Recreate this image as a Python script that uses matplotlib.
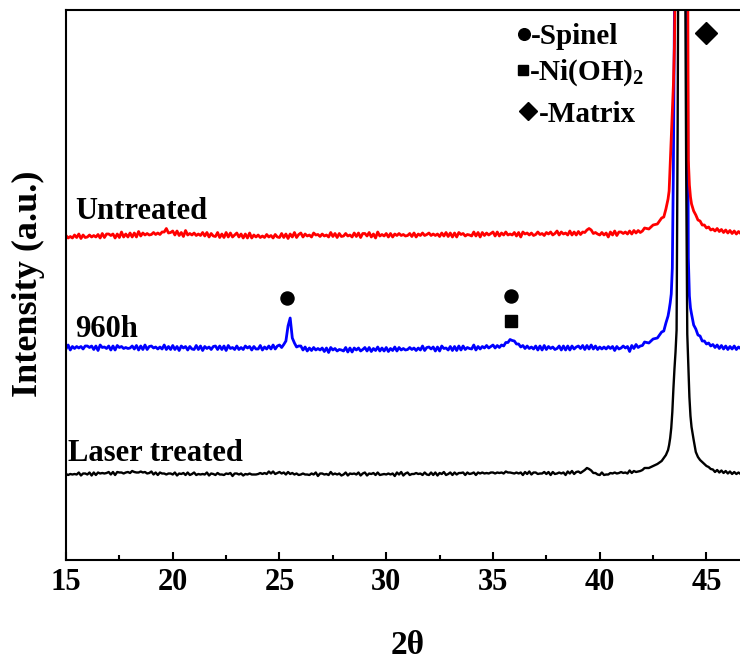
import numpy as np
import matplotlib
matplotlib.use("Agg")
import matplotlib.pyplot as plt

plt.rcParams['font.family'] = ['Liberation Serif', 'DejaVu Serif']
plt.rcParams['font.weight'] = 'bold'
plt.rcParams['mathtext.fontset'] = 'custom'
plt.rcParams['mathtext.rm'] = 'Liberation Serif:bold'
plt.rcParams['mathtext.bf'] = 'Liberation Serif:bold'
plt.rcParams['mathtext.it'] = 'Liberation Serif:bold:italic'

# ---- scan grids (degrees 2-theta) ----
two_theta_bg = np.round(np.arange(15.0, 42.05, 0.1), 2)        # background scan
peak_two_theta = [42.1, 42.3, 42.5, 42.7, 42.9, 43.0, 43.1, 43.2, 43.25, 43.3,
                  43.35, 43.4, 43.45, 43.5, 43.55, 43.6, 43.65, 43.7, 43.75, 43.8,
                  43.85, 43.9, 43.95, 44.0, 44.05, 44.1, 44.15, 44.2, 44.25, 44.3,
                  44.4, 44.5, 44.6, 44.7, 44.8, 44.9, 45.0, 45.1, 45.2]
two_theta_tail = np.round(np.arange(45.3, 46.65, 0.1), 2)

# ---- intensities (a.u.), relative to each pattern's own background ----
untreated_bg = [
    -0.5, -3, -1.5, -3, 0, -2.5, 1, -3.5, 0, -2.5,
    -2, 0, -2, -0.5, -2, 0.5, -3, 1.5, -2.5, 1,
    1, -0.5, 1, -3, 1, -2.5, 3, -2, 1, -2,
    2, -2, 2, -2, 3.5, -1, 2, 0, 1.5, 0,
    0.5, 2.5, 0.5, 2, 0.5, 3, 3, 6.5, 2, 2.5,
    4, 0, 4, -0.5, 2.5, -1.5, 4.5, 0, 1.5, 0,
    2, -0.5, 1, -0.5, 2.5, -1, 2.5, -2, 1.5, -1,
    -1.5, 2.5, -2.5, 1, -2.5, 2.5, -2, 2, -2, 0,
    2, -2, 1, -3, 1, -3, 2, -3, 0, -2,
    0, -2.5, -1, -2.5, 0.5, -2, -0.5, -3, 0.5, -2,
    -2.5, 1.5, -2.5, 1, -3.5, 1, -2, 2.5, -2.5, 0.5,
    2, -2, 1, -1, 0, -2, 2, 0, 0.5, -1.5,
    1, -1, 0, -2, 2.5, -1.5, 1.5, -2.5, 1.5, -1.5,
    -1, 1.5, -1, 0, -2, 2, -1.5, 2, -2.5, 1.5,
    1.5, -1, 2.5, -2, 1, -3, 3, -1, 0.5, -1,
    1.5, -2, 1.5, -2, 1, -0.5, 1.5, -0.5, 0.5, -1,
    -0.5, 1.5, -1.5, 2, -2, 1, -0.5, 2, -0.5, 0.5,
    2, -0.5, 1, -0.5, 1, -1.5, 2, -1, 2.5, -1.5,
    2, -2, 2, -2, 2.5, 0.5, 1.5, -1, 0.5, 0,
    -1, 3, -1, 2.5, -2, 2.5, -0.5, 2, 0, 1.5,
    3, -1, 3, -1, 2, 0, 3, 0, 1, 0,
    2.5, -1, 2.5, -2, 3, 1, 2, 0, 2, -0.5,
    0.5, 3, 0.5, 1.5, -0.5, 2.5, 1, 3, 0, 1.5,
    4, 0, 3, 1, 2, 0, 4, 0, 3, 0,
    3.5, 0.5, 3, 2.5, 5, 6.5, 5, 1.5, 2.5, 1,
    0, 2.5, 0, 2, -2, 3, 0, 4, -0.5, 3,
    3, 1.5, 3, 1, 4, 1, 4.5, 2, 4.5, 2.5,
    4]
untreated_peak = [7, 6, 10, 11, 17, 18, 26, 36, 44, 70,
                  95, 120, 150, 190, 280, 550, 1000, 1300, 1500, 1600,
                  1600, 1500, 1300, 1000, 800, 400, 75, 50, 38, 31,
                  24, 20, 15, 14, 10, 10, 7, 8, 5]
untreated_tail = [6, 4, 6.5, 3.5, 5.5, 2.5, 5, 2, 4.5, 1.5, 4, 1, 3.5, 1.5]

h960_bg = [
    -1, 3, -2, 1.5, -0.5, 1.5, 0, 1.5, -1, 2,
    2, 0.5, 2, -1.5, 2, -2.5, 3, 0.5, 1, -0.5,
    2, -2, 2, -2, 2.5, 0.5, 1.5, -0.5, 0.5, -0.5,
    0, 2, -1, 2.5, -2, 2, -1.5, 3, -1.5, 1.5,
    2, 0, 1, -1, 1, -1, 3, -1.5, 1.5, -1.5,
    2.5, -1.5, 1.5, -2.5, 2, 0, 1.5, -2, 1.5, -1,
    -1.5, 2.5, -1.5, 2, -2.5, 1.5, -0.5, 1, -1.5, 1.5,
    2, -1.5, 2, -1.5, 2, -2.5, 2.5, -0.5, 0.5, -1.5,
    2, -1.5, 0.5, -1.5, 2, 0, 1.5, -2, 1.5, -1,
    -1, 2.5, -2, 1, -1, 2, -1, 3, -1, 2,
    3, 0.5, 3.5, 7, 22, 30, 10, 5, 1, 2,
    2, -2, 1, -3, 0, -2.5, 0.5, -2, -0.5, -2,
    0, -3.5, 0, -4.5, 0.5, -2, -0.5, -3, -1.5, -2,
    -3, 0.5, -4, 0, -4, 0, -2, 0, -3, -1.5,
    0.5, -3, 0.5, -3.5, -0.5, -2.5, 1, -3, 0, -3,
    0.5, -3.5, -0.5, -2.5, 1, -3, 0.5, -2, -0.5, -2,
    -1.5, 0.5, -1.5, 0, -2.5, 0, -2, 2, -2.5, 0.5,
    1, -1, 1, -3, 1, -3, 2, -0.5, 0, -2,
    1.5, -2.5, 1.5, -2.5, 2, -2, 2, -1.5, 0.5, -0.5,
    -1, 3, -2, 1.5, -1, 1.5, 0, 2.5, 0, 1.5,
    3, 0, 2.5, 0.5, 3, 2, 5.5, 5.5, 8.5, 7.5,
    7, 4, 4, 1, 2.5, -0.5, 2, -0.5, 1, -1,
    2, -2, 2, -2, 2.5, -1.5, 1.5, -0.5, 1, -1.5,
    -0.5, 2, -2, 2, -2, 2, -2, 2, -1, 1,
    2, -0.5, 2.5, -1.5, 2.5, -1, 3, -1, 2, -1.5,
    1, -1, 1, -1, 1.5, -0.5, 1.5, -2.5, 1.5, -1,
    0, 2, 0, 1.5, -3.5, 2.5, -0.5, 3.5, 0.5, 2,
    2.5]
h960_peak = [6, 5, 9, 10, 16, 17, 25, 32, 38, 45,
             54, 80, 180, 330, 600, 1000, 1300, 1500, 1600, 1600,
             1600, 1500, 1300, 1000, 650, 360, 90, 52, 40, 34,
             23, 19, 13, 12, 7, 7, 4, 5, 2]
h960_tail = [3.5, 0.5, 3, -0.5, 2.5, -1, 2, -1.5, 1.5, -1, 2, -1.5, 1, -0.5]

laser_bg = [
    0, -1, 0, -0.5, 0, -0.5, 1.5, -1.5, 0.5, 0.5,
    -0.5, 1.5, -1.5, 1.5, -1, 1.5, 0.5, 1, 0.5, 1,
    2, -0.5, 2, -1, 2, 1.5, 1.5, 0.5, 1.5, 2,
    1, 3, 2, 1.5, 1.5, 2.5, 1.5, 2, 0.5, 1,
    2.5, -0.5, 1.5, -1, 1.5, 0.5, 0.5, -0.5, 0.5, 0.5,
    -0.5, 1.5, -1.5, 0.5, 0, 1, -1, 1.5, -1, 0,
    1.5, -1, 0, -0.5, 0, -0.5, 1.5, -1.5, 0.5, 0,
    -1, 1, -0.5, -0.5, -1, 0.5, 0, 1, -2, 0.5,
    0.5, -0.5, 0.5, -1.5, 0, -0.5, 0.5, -0.5, -0.5, -0.5,
    0, 1, 0, 1, 0, 2.5, 0.5, 2.5, 0, 1,
    2, 0.5, 1.5, -0.5, 2, 0, 1, -0.5, 0.5, -1,
    -0.5, 0.5, -0.5, -0.5, -1, 0.5, -0.5, 1.5, -2, 0.5,
    0.5, -0.5, 0, -1, 2, -0.5, 0.5, -0.5, 0.5, -1.5,
    -0.5, 1.5, -1.5, 0.5, 0, 0.5, -0.5, 1.5, -1.5, 0.5,
    1.5, -1.5, 0.5, 0, 1, -1, 1.5, -1, -0.5, 0,
    -0.5, 0.5, -0.5, 0.5, -2, 1.5, -0.5, 2, -1.5, 0.5,
    1.5, -1, 0, 0, 1, 0, 0.5, -1, 1.5, -0.5,
    -1, 1.5, -1, 1.5, -1.5, 1, 0, 2, -1, 0,
    1.5, -1, 1.5, -0.5, 1, 1, 1.5, -1, 1.5, 0,
    0.5, 1.5, -1, 1.5, 0.5, 1.5, 0.5, 1, 0.5, 1.5,
    1.5, 0.5, 1.5, 1, 1.5, 0.5, 2.5, 1.5, 1.5, 1,
    0.5, 1.5, 0.5, 1.5, -1, 2, 0, 2.5, -0.5, 1.5,
    1.5, 0, 0.5, 0.5, 2, 0, 2, -1, 2, 0,
    0.5, 1.5, 0.5, 1.5, -1, 2.5, 0.5, 3, 0, 2,
    2.5, 1, 2.5, 4, 6, 5, 3.5, 1, 1, -0.5,
    -1, 1.5, -1, -0.5, -0.5, 1, 0.5, 1.5, 0.5, 1,
    2, 1, 1.5, 0.5, 3.5, 1, 3, 2, 2.5, 3,
    4]
laser_peak = [6, 6, 8, 10, 13, 16, 19, 24, 29, 36,
              46, 62, 85, 105, 122, 144, 350, 650, 1100, 1500,
              1600, 1400, 900, 520, 300, 140, 110, 77, 58, 47,
              34, 22, 17, 14, 12, 10, 8, 7, 5]
laser_tail = [4.5, 2, 4, 1.5, 3.5, 1, 3, 0.5, 2.5, 0, 2, 0, 1.5, 0]

sample_names = ["Laser treated", "960h", "Untreated"]
stack_offsets = [86, 212, 325]
line_colors = ["#000000", "#0000FF", "#FF0000"]
line_widths = [1.7, 2.0, 2.0]

# phase marker positions (2-theta, intensity)
spinel_marks = ([25.35, 35.84], [262, 264])
nioh2_marks = ([35.84], [239])
matrix_marks = ([45.0], [527])

two_theta = np.concatenate([two_theta_bg, peak_two_theta, two_theta_tail])
patterns = [
    np.concatenate([laser_bg, laser_peak, laser_tail]),
    np.concatenate([h960_bg, h960_peak, h960_tail]),
    np.concatenate([untreated_bg, untreated_peak, untreated_tail]),
]

fig = plt.figure(figsize=(7.40, 6.59), dpi=100)
ax = fig.add_axes([66 / 740, 1 - 560 / 659, 674 / 740, 550 / 659])

# draw blue, red, then black on top
for idx in (1, 2, 0):
    ax.plot(two_theta, patterns[idx] + stack_offsets[idx],
            color=line_colors[idx], lw=line_widths[idx])

ax.set_xlim(15, 46.57)
ax.set_ylim(0, 550)

for side in ("left", "top", "bottom"):
    ax.spines[side].set_linewidth(1.5)
ax.spines["right"].set_visible(False)

ax.set_xticks([15, 20, 25, 30, 35, 40, 45])
ax.set_xticks([17.5, 22.5, 27.5, 32.5, 37.5, 42.5], minor=True)
ax.set_yticks([])
ax.tick_params(axis='x', which='major', direction='in', length=6, width=1.5,
               labelsize=22, pad=6)
ax.tick_params(axis='x', which='minor', direction='in', length=3.5, width=1.5)
for lab in ax.get_xticklabels():
    lab.set_fontweight('bold')

# sample labels
label_pos = [(15.09, 99), (15.42, 223), (15.42, 341)]
for name, (lx, ly) in zip(sample_names, label_pos):
    ax.text(lx, ly, name, fontsize=22, fontweight='bold', ha='left', va='baseline')

# phase markers on the patterns
ax.plot(*spinel_marks, 'o', color='black', ms=9.4, ls='none')
ax.plot(*nioh2_marks, 's', color='black', ms=9.2, ls='none')
ax.plot(*matrix_marks, 'D', color='black', ms=11.5, ls='none')

# key for the phase symbols
ax.plot([36.45], [526], 'o', color='black', ms=8.4, ls='none')
ax.plot([36.41], [490], 's', color='black', ms=7.9, ls='none')
ax.plot([36.64], [449], 'D', color='black', ms=9.2, ls='none')
ax.text(36.78, 516, "-Spinel", fontsize=21, fontweight='bold', va='baseline')
ax.text(36.69, 480, r"-Ni(OH)$_2$", fontsize=21, fontweight='bold', va='baseline')
ax.text(37.15, 438, "-Matrix", fontsize=21, fontweight='bold', va='baseline')

fig.text(408 / 740, 1 - 645 / 659, "2θ", fontsize=24, fontweight='bold',
         ha='center', va='center')
fig.text(28 / 740, 1 - 284 / 659, "Intensity (a.u.)", fontsize=26,
         fontweight='bold', rotation=90, ha='center', va='center')

fig.savefig("out.png", dpi=100)
